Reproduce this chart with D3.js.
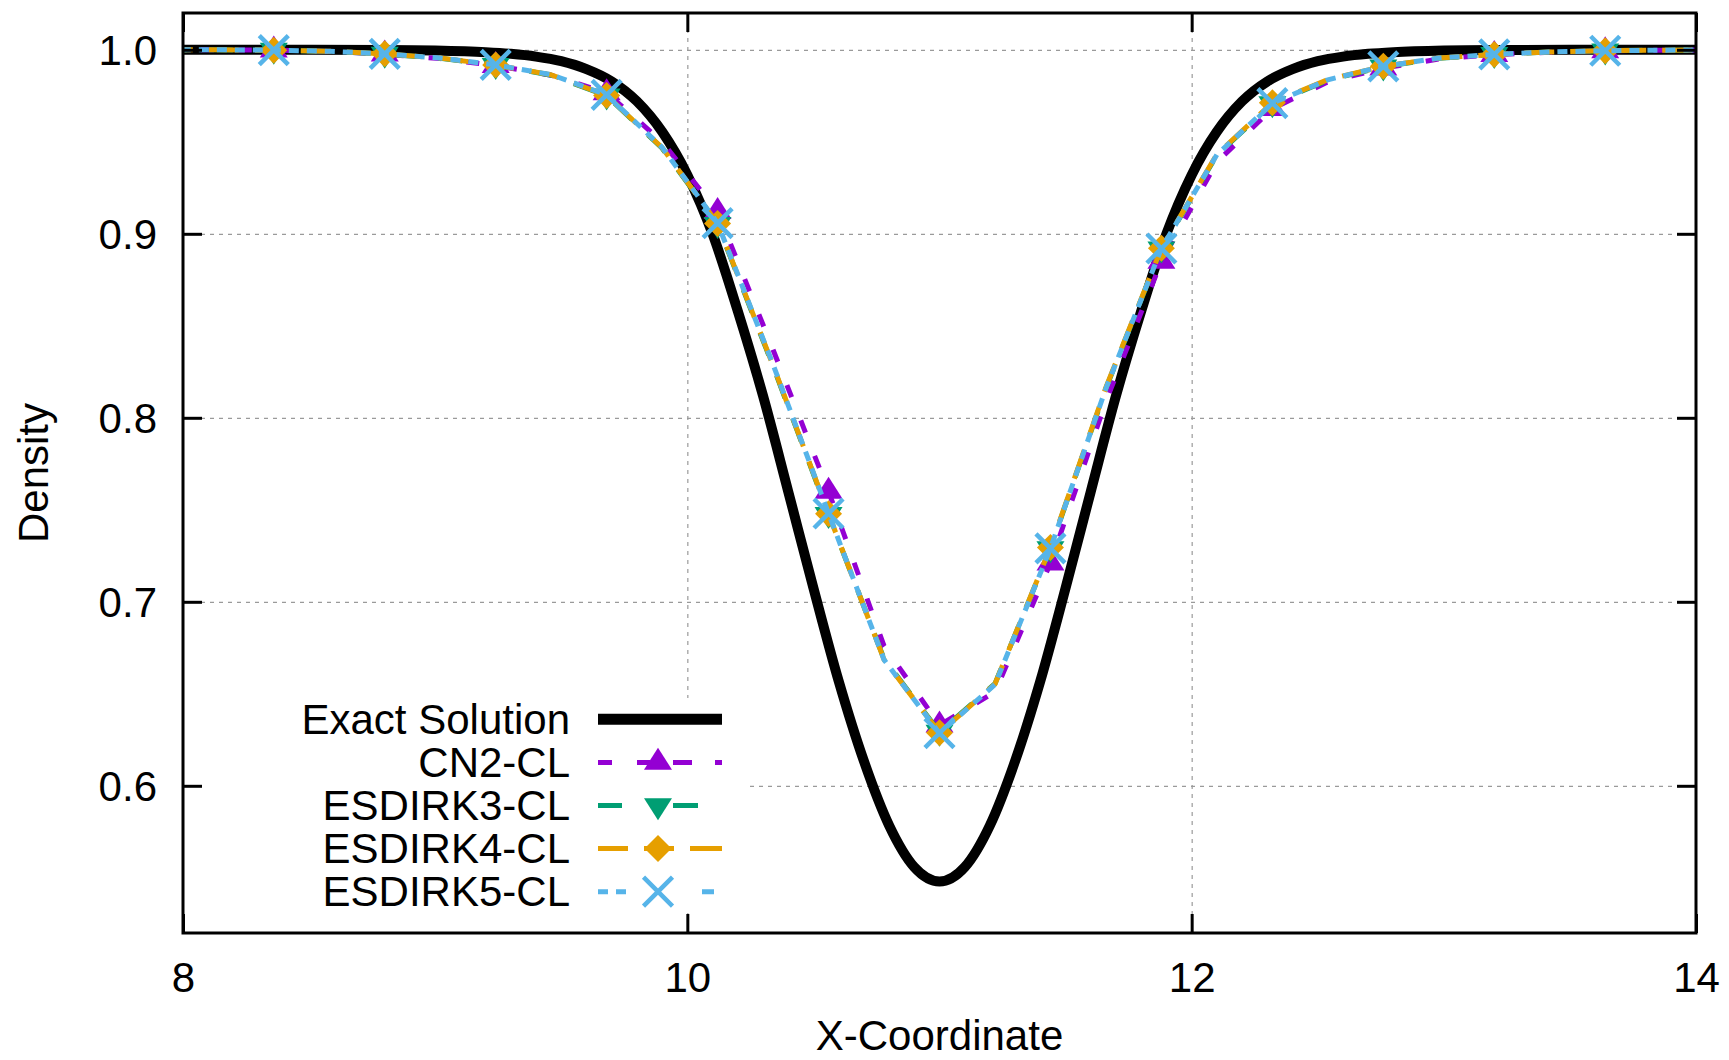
<!DOCTYPE html>
<html>
<head>
<meta charset="utf-8">
<script src="https://cdn.jsdelivr.net/npm/d3@7"></script>
<style>
  body { margin: 0; background: #fff; }
  svg text { font-family: "Liberation Sans", Arial, Helvetica, sans-serif; }
</style>
</head>
<body>
<div id="chart"></div>
<script>
// Exact solution
const exactX = [8.0, 8.5, 8.8, 9.0, 9.2, 9.3, 9.4, 9.5, 9.6, 9.7, 9.8, 9.9, 10.0, 10.1, 10.2, 10.3, 10.4, 10.5, 10.6, 10.7, 10.8, 10.9, 11.0,
  11.1, 11.2, 11.3, 11.4, 11.5, 11.6, 11.7, 11.8, 11.9, 12.0, 12.1, 12.2, 12.3, 12.4, 12.5, 12.6, 12.7, 12.8, 13.0, 13.2, 13.5, 14.0]
const exactY = [1.0, 1.0, 0.9999, 0.9996, 0.9987, 0.9978, 0.9963, 0.9938, 0.9895, 0.9828, 0.972, 0.9555, 0.932, 0.900, 0.858, 0.812, 0.760, 0.7075, 0.657, 0.6135, 0.5785, 0.5558, 0.548,
  0.5558, 0.5785, 0.6135, 0.657, 0.7075, 0.760, 0.812, 0.858, 0.900, 0.932, 0.9555, 0.972, 0.9828, 0.9895, 0.9938, 0.9963, 0.9978, 0.9987, 0.9996, 0.9999, 1.0, 1.0]

// Numerical solutions, grid points (markers on every 2nd point)
const gridX = [7.92, 8.14, 8.36, 8.58, 8.80, 9.02, 9.24, 9.46, 9.68, 9.90, 10.12, 10.34, 10.56, 10.78, 11.00,
  11.22, 11.44, 11.66, 11.88, 12.10, 12.32, 12.54, 12.76, 12.98, 13.20, 13.42, 13.64, 13.86, 14.08]
const cn2 = [1.0, 1.0, 0.9998, 0.9991, 0.9976, 0.9952, 0.9914, 0.9862, 0.9766, 0.950, 0.912, 0.837, 0.760, 0.676, 0.633,
  0.651, 0.721, 0.809, 0.885, 0.939, 0.968, 0.9825, 0.990, 0.9950, 0.9973, 0.9987, 0.9994, 0.9998, 1.0]
const esdirk3 = [1.0, 1.0, 0.9998, 0.9992, 0.9977, 0.9954, 0.9916, 0.9862, 0.9750, 0.9465, 0.9052, 0.8280, 0.7475, 0.6690, 0.6292,
  0.6555, 0.7290, 0.8160, 0.8918, 0.9428, 0.9708, 0.9835, 0.9908, 0.9954, 0.9975, 0.9988, 0.9995, 0.9998, 1.0]
const esdirk4 = [1.0, 1.0, 0.9998, 0.9992, 0.9978, 0.9955, 0.9917, 0.9864, 0.9752, 0.9468, 0.9056, 0.8285, 0.7478, 0.6686, 0.6288,
  0.6553, 0.7295, 0.8165, 0.8922, 0.9432, 0.9712, 0.9838, 0.9910, 0.9955, 0.9975, 0.9988, 0.9995, 0.9998, 1.0]
const esdirk5 = [1.0, 1.0, 0.9998, 0.9992, 0.9978, 0.9955, 0.9918, 0.9865, 0.9755, 0.947, 0.9058, 0.829, 0.748, 0.6685, 0.6286,
  0.655, 0.729, 0.816, 0.892, 0.943, 0.971, 0.9837, 0.991, 0.9955, 0.9975, 0.9988, 0.9995, 0.9998, 1.0]

const seriesNames = ['CN2-CL', 'ESDIRK3-CL', 'ESDIRK4-CL', 'ESDIRK5-CL']
const xTicks = [8, 10, 12, 14]
const yTicks = [0.6, 0.7, 0.8, 0.9, 1.0]
const xGrid = [10, 12]

// line styles; keyDash is the sample drawn in the key box
const styles = [
  { color: '#9400d3', dash: '13,25', keyDash: '14,25,13,23,19,23,7', marker: 'triangle' },
  { color: '#009e73', dash: '24,22', keyDash: '24,51,25,40', marker: 'invTriangle' },
  { color: '#e69f00', dash: '30,16', keyDash: '30,16,30,16,32', marker: 'diamond' },
  { color: '#56b4e9', dash: '10,8', keyDash: '10,8,10,76,12,20', marker: 'cross' },
]
const markerPaths = {
  triangle: 'M0,-14.7L14,7.3L-14,7.3Z',
  invTriangle: 'M0,14.7L14,-7.3L-14,-7.3Z',
  diamond: 'M0,-13.5L13.5,0L0,13.5L-13.5,0Z',
  cross: 'M-14.5,-14.5L14.5,14.5M14.5,-14.5L-14.5,14.5',
}

const width = 1729, height = 1060
const margin = { top: 13, right: 33, bottom: 127, left: 183 }
const plotW = width - margin.left - margin.right
const plotH = height - margin.top - margin.bottom
const font = '"Liberation Sans", Arial, Helvetica, sans-serif'

const svg = d3.select('#chart').append('svg')
  .attr('width', width)
  .attr('height', height)

const x = d3.scaleLinear().domain([8, 14]).range([margin.left, width - margin.right])
const y = d3.scaleLinear().domain([0.52, 1.02]).range([height - margin.bottom, margin.top])

svg.append('clipPath').attr('id', 'clip')
  .append('rect')
  .attr('x', margin.left).attr('y', margin.top)
  .attr('width', plotW).attr('height', plotH)

// grid
const gridStyle = g => {
  g.select('.domain').remove()
  g.selectAll('line').attr('stroke', '#9a9a9a').attr('stroke-width', 1.2).attr('stroke-dasharray', '4,5')
}
svg.append('g')
  .attr('transform', `translate(0, ${height - margin.bottom})`)
  .call(d3.axisBottom(x).tickValues(xGrid).tickSize(-plotH).tickFormat(''))
  .call(gridStyle)
svg.append('g')
  .attr('transform', `translate(${margin.left}, 0)`)
  .call(d3.axisLeft(y).tickValues(yTicks).tickSize(-plotW).tickFormat(''))
  .call(gridStyle)

// opaque key box
svg.append('rect')
  .attr('x', margin.left + 3).attr('y', 698)
  .attr('width', 746 - margin.left - 3).attr('height', 215)
  .attr('fill', '#fff')

const plot = svg.append('g').attr('clip-path', 'url(#clip)')

// exact solution
plot.append('path')
  .datum(exactX.map((d, i) => [d, exactY[i]]))
  .attr('fill', 'none')
  .attr('stroke', '#000')
  .attr('stroke-width', 10)
  .attr('d', d3.line().x(d => x(d[0])).y(d => y(d[1])).curve(d3.curveMonotoneX))

const seriesData = [cn2, esdirk3, esdirk4, esdirk5]
const line = d3.line().x(d => x(d[0])).y(d => y(d[1]))

seriesData.forEach(function (values, s) {
  const st = styles[s]
  const pts = gridX.map((d, i) => [d, values[i]])
  plot.append('path')
    .datum(pts)
    .attr('fill', 'none')
    .attr('stroke', st.color)
    .attr('stroke-width', 5)
    .attr('stroke-dasharray', st.dash)
    .attr('d', line)

  const marks = pts.filter((d, i) => i % 2 === 0 && d[0] >= 8 && d[0] <= 14)
  plot.append('g').selectAll('path')
    .data(marks)
    .join('path')
    .attr('transform', d => `translate(${x(d[0])}, ${y(d[1])})`)
    .attr('d', markerPaths[st.marker])
    .attr('fill', st.marker === 'cross' ? 'none' : st.color)
    .attr('stroke', st.marker === 'cross' ? st.color : 'none')
    .attr('stroke-width', 4.5)
})

// axes with inward ticks
const axisStyle = g => {
  g.select('.domain').remove()
  g.selectAll('line').attr('stroke', '#000').attr('stroke-width', 3)
  g.attr('font-size', 42).attr('font-family', font)
  g.selectAll('text').attr('fill', '#000')
}
svg.append('g')
  .attr('transform', `translate(0, ${height - margin.bottom})`)
  .call(d3.axisBottom(x).tickValues(xTicks).tickSize(-19).tickPadding(29).tickFormat(d3.format('d')))
  .call(axisStyle)
svg.append('g')
  .attr('transform', `translate(0, ${margin.top})`)
  .call(d3.axisTop(x).tickValues(xTicks).tickSize(-19).tickFormat(''))
  .call(axisStyle)
svg.append('g')
  .attr('transform', `translate(${margin.left}, 0)`)
  .call(d3.axisLeft(y).tickValues(yTicks).tickSize(-19).tickPadding(26).tickFormat(d3.format('.1f')))
  .call(axisStyle)
  .selectAll('text').attr('dy', '0.36em')
svg.append('g')
  .attr('transform', `translate(${width - margin.right}, 0)`)
  .call(d3.axisRight(y).tickValues(yTicks).tickSize(-19).tickFormat(''))
  .call(axisStyle)

// frame
svg.append('rect')
  .attr('x', margin.left).attr('y', margin.top)
  .attr('width', plotW).attr('height', plotH)
  .attr('fill', 'none')
  .attr('stroke', '#000')
  .attr('stroke-width', 3)

// axis labels
svg.append('text')
  .attr('x', margin.left + plotW / 2).attr('y', 1050)
  .attr('text-anchor', 'middle')
  .attr('font-size', 42)
  .text('X-Coordinate')
svg.append('text')
  .attr('transform', `translate(48, ${margin.top + plotH / 2}) rotate(-90)`)
  .attr('text-anchor', 'middle')
  .attr('font-size', 42)
  .text('Density')

// legend
const legendNames = ['Exact Solution'].concat(seriesNames)
const key = svg.append('g')
legendNames.forEach(function (name, i) {
  const cy = 719.3 + 43.1 * i
  key.append('text')
    .attr('x', 570).attr('y', cy + 14.5)
    .attr('text-anchor', 'end')
    .attr('font-size', 42)
    .text(name)
  const ln = key.append('line')
    .attr('x1', 598).attr('x2', 722)
    .attr('y1', cy).attr('y2', cy)
  if (i === 0) {
    ln.attr('stroke', '#000').attr('stroke-width', 11)
    return
  }
  const st = styles[i - 1]
  ln.attr('stroke', st.color).attr('stroke-width', 5).attr('stroke-dasharray', st.keyDash)
  key.append('path')
    .attr('transform', `translate(658, ${cy})`)
    .attr('d', markerPaths[st.marker])
    .attr('fill', st.marker === 'cross' ? 'none' : st.color)
    .attr('stroke', st.marker === 'cross' ? st.color : 'none')
    .attr('stroke-width', 4.5)
})
</script>
</body>
</html>
